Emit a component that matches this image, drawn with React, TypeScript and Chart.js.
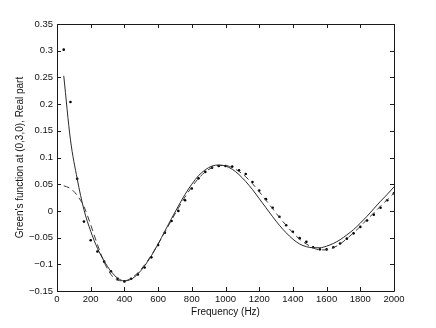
import React, { useEffect, useRef } from "react";
import { Chart, registerables } from "chart.js";

Chart.register(...registerables);

const freqHz = [
  40, 80, 120, 160, 200, 240, 280, 320, 360, 400,
  440, 480, 520, 560, 600, 640, 680, 720, 760, 800,
  840, 880, 920, 960, 1000, 1040, 1080, 1120, 1160, 1200,
  1240, 1280, 1320, 1360, 1400, 1440, 1480, 1520, 1560, 1600,
  1640, 1680, 1720, 1760, 1800, 1840, 1880, 1920, 1960, 2000,
];

const measured = [
  0.302, 0.204, 0.06, -0.02, -0.055, -0.076, -0.095, -0.113, -0.127, -0.132,
  -0.127, -0.119, -0.106, -0.087, -0.064, -0.041, -0.019, 0.0, 0.02, 0.042,
  0.061, 0.073, 0.081, 0.084, 0.084, 0.083, 0.076, 0.069, 0.054, 0.038,
  0.022, 0.006, -0.011, -0.027, -0.039, -0.051, -0.058, -0.068, -0.072, -0.072,
  -0.068, -0.061, -0.052, -0.042, -0.03, -0.018, -0.007, 0.006, 0.02, 0.033,
];

const modelSolid = [
  0.253, 0.133, 0.06, 0.002, -0.038, -0.07, -0.094, -0.113, -0.126, -0.131,
  -0.128, -0.118, -0.103, -0.084, -0.062, -0.038, -0.014, 0.009, 0.031, 0.05,
  0.066, 0.077, 0.084, 0.086, 0.084, 0.078, 0.068, 0.055, 0.04, 0.023,
  0.006, -0.011, -0.027, -0.041, -0.053, -0.062, -0.067, -0.069, -0.069, -0.066,
  -0.061, -0.054, -0.045, -0.035, -0.023, -0.01, 0.004, 0.018, 0.031, 0.045,
];

const fitDashed = [
  0.047, 0.042, 0.029, 0.008, -0.026, -0.063, -0.096, -0.119, -0.13, -0.131,
  -0.126, -0.116, -0.101, -0.083, -0.062, -0.04, -0.017, 0.005, 0.026, 0.045,
  0.061, 0.073, 0.081, 0.085, 0.085, 0.081, 0.074, 0.064, 0.051, 0.036,
  0.02, 0.004, -0.012, -0.027, -0.041, -0.053, -0.062, -0.069, -0.073, -0.073,
  -0.069, -0.062, -0.052, -0.041, -0.029, -0.016, -0.004, 0.009, 0.021, 0.033,
];

const xTicks = [0, 200, 400, 600, 800, 1000, 1200, 1400, 1600, 1800, 2000];
const yTicks = [-0.15, -0.1, -0.05, 0, 0.05, 0.1, 0.15, 0.2, 0.25, 0.3, 0.35];

const xTitle = "Frequency (Hz)";
const yTitle = "Green's function at (0,3,0), Real part";

const FONT = "'Liberation Sans', Arial, Helvetica, sans-serif";

const fmtY = (v: number) => {
  const r = Math.round(v * 100) / 100;
  if (Math.abs(r) < 1e-9) return "0";
  const s = String(Math.abs(r));
  return (r < 0 ? "\u2212" : "") + s;
};

const framePlugin = {
  id: "matlabFrame",
  afterDraw(chart: any) {
    const { ctx, chartArea } = chart;
    const { left, right, top, bottom } = chartArea;
    const xs = chart.scales.x;
    const ys = chart.scales.y;
    const len = 4;
    ctx.save();
    ctx.strokeStyle = "#1a1a1a";
    ctx.lineWidth = 1;
    ctx.beginPath();
    ctx.rect(Math.round(left) + 0.5, Math.round(top) + 0.5, Math.round(right - left), Math.round(bottom - top));
    ctx.stroke();
    ctx.beginPath();
    for (const t of xTicks) {
      const px = Math.round(xs.getPixelForValue(t)) + 0.5;
      ctx.moveTo(px, bottom);
      ctx.lineTo(px, bottom - len);
      ctx.moveTo(px, top);
      ctx.lineTo(px, top + len);
    }
    for (const t of yTicks) {
      const py = Math.round(ys.getPixelForValue(t)) + 0.5;
      ctx.moveTo(left, py);
      ctx.lineTo(left + len, py);
      ctx.moveTo(right, py);
      ctx.lineTo(right - len, py);
    }
    ctx.stroke();
    ctx.restore();
  },
};

export default function App() {
  const ref = useRef<HTMLCanvasElement>(null);

  useEffect(() => {
    document.body.style.margin = "0";
    const canvas = ref.current;
    if (!canvas) return;
    const pts = (ys: number[]) => freqHz.map((f, i) => ({ x: f, y: ys[i] }));
    const chart = new Chart(canvas, {
      type: "line",
      data: {
        datasets: [
          {
            label: "model",
            data: pts(modelSolid),
            borderColor: "#2a2a2a",
            borderWidth: 1,
            pointRadius: 0,
            fill: false,
            cubicInterpolationMode: "monotone",
          },
          {
            label: "fit",
            data: pts(fitDashed),
            borderColor: "#3a3a3a",
            borderWidth: 1,
            borderDash: [6, 4],
            pointRadius: 0,
            fill: false,
            cubicInterpolationMode: "monotone",
          },
          {
            label: "measured",
            data: pts(measured),
            showLine: false,
            pointRadius: 1.3,
            pointBackgroundColor: "#000",
            pointBorderWidth: 0,
            borderColor: "#000",
          },
        ],
      },
      options: {
        animation: false,
        responsive: false,
        maintainAspectRatio: false,
        devicePixelRatio: 1,
        layout: { padding: { left: 0, top: 24, right: 42, bottom: 0 } },
        plugins: {
          legend: { display: false },
          tooltip: { enabled: false },
        },
        scales: {
          x: {
            type: "linear",
            min: 0,
            max: 2000,
            afterBuildTicks: (s: any) => {
              s.ticks = xTicks.map((v) => ({ value: v }));
            },
            afterFit: (s: any) => {
              s.height = 37;
            },
            grid: { display: false, drawTicks: false },
            border: { display: false },
            ticks: {
              padding: 3,
              color: "#111",
              font: { family: FONT, size: 9.5 },
              maxRotation: 0,
              callback: (v: any) => String(v),
            },
            title: {
              display: true,
              text: xTitle,
              color: "#111",
              font: { family: FONT, size: 10 },
              padding: { top: 0, bottom: 10 },
            },
          },
          y: {
            type: "linear",
            min: -0.15,
            max: 0.35,
            afterBuildTicks: (s: any) => {
              s.ticks = yTicks.map((v) => ({ value: v }));
            },
            afterFit: (s: any) => {
              s.width = 57;
            },
            grid: { display: false, drawTicks: false },
            border: { display: false },
            ticks: {
              padding: 4,
              color: "#111",
              font: { family: FONT, size: 9.5 },
              callback: (v: any) => fmtY(Number(v)),
            },
            title: {
              display: true,
              text: yTitle,
              color: "#111",
              font: { family: FONT, size: 10 },
              padding: { top: 14, bottom: 0 },
            },
          },
        },
      },
      plugins: [framePlugin],
    } as any);
    return () => chart.destroy();
  }, []);

  return (
    <div style={{ position: "absolute", left: 0, top: 0, width: 436, height: 328, background: "#fff" }}>
      <canvas ref={ref} width={436} height={328} style={{ width: 436, height: 328, display: "block" }} />
    </div>
  );
}
